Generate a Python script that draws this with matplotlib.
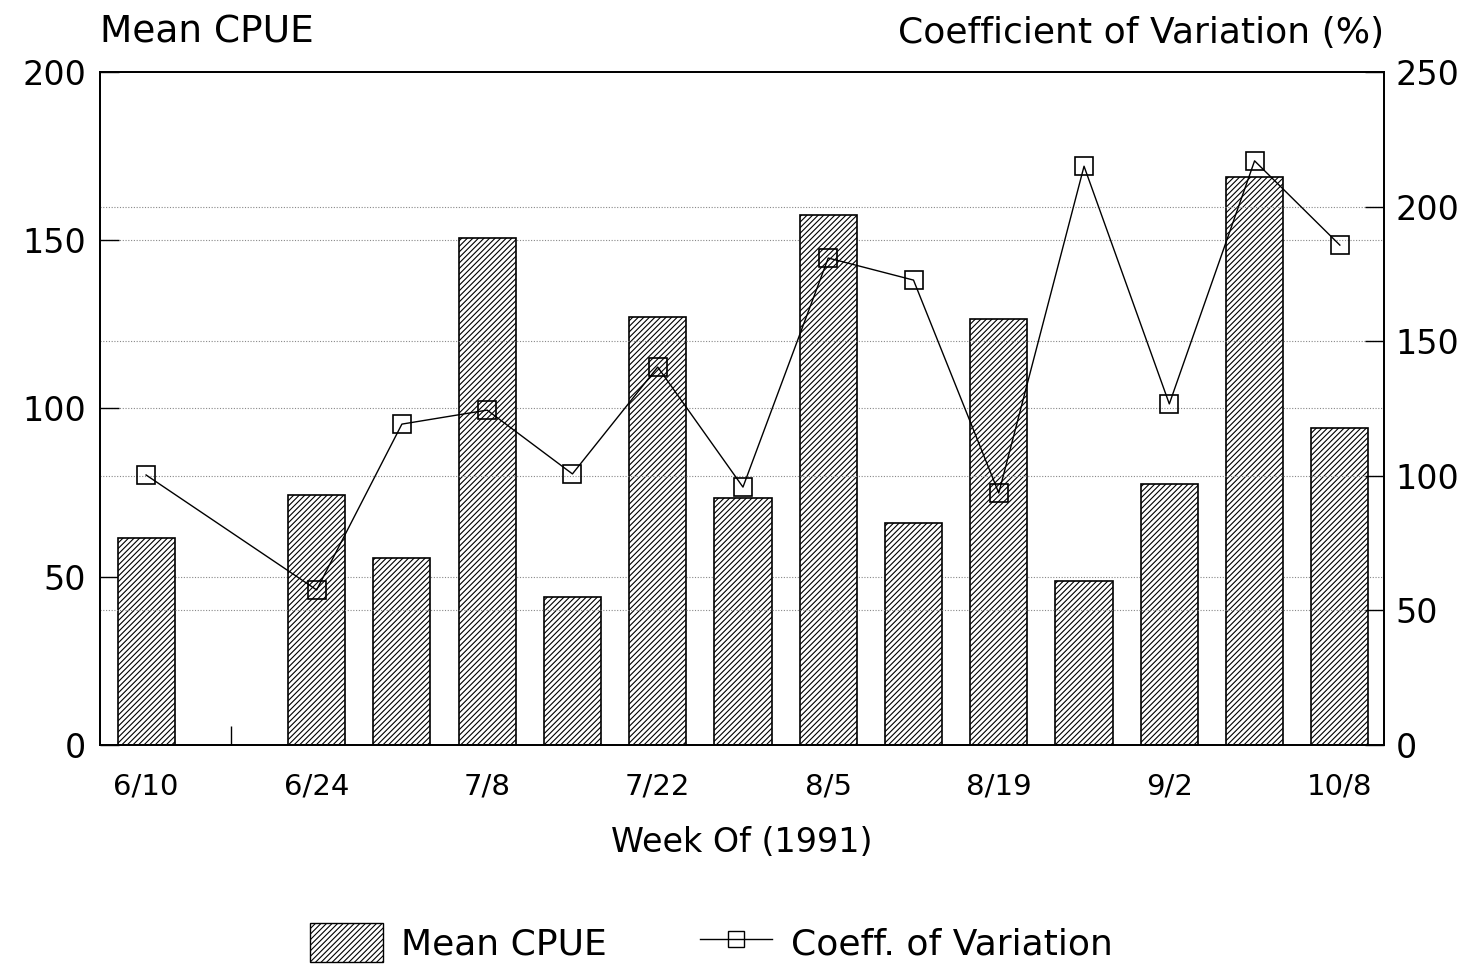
import matplotlib
matplotlib.use("Agg")
import matplotlib.pyplot as plt
from matplotlib.patches import Patch
from matplotlib.lines import Line2D
import numpy as np

plt.rcParams['font.family'] = ['DejaVu Sans']
plt.rcParams['hatch.linewidth'] = 0.8

weeks = ['6/10', '6/17', '6/24', '7/1', '7/8', '7/15', '7/22', '7/29',
         '8/5', '8/12', '8/19', '8/26', '9/2', '9/9', '10/8']
mean_cpue = [61.5, np.nan, 74.3, 55.6, 150.7, 44.0, 127.2, 73.4,
             157.5, 66.0, 126.6, 48.7, 77.6, 168.8, 94.2]
coeff_var = [100.3, np.nan, 57.6, 119.2, 124.4, 100.7, 140.4, 95.8,
             180.9, 172.7, 93.6, 215.0, 126.7, 217.0, 185.7]

x = np.arange(len(weeks))
cpue = np.array(mean_cpue)
cv = np.array(coeff_var)

fig = plt.figure(figsize=(14.82, 9.64), dpi=100)
ax = fig.add_axes([0.0675, 0.2272, 0.8665, 0.6981])
ax2 = ax.twinx()

# dotted grid for both scales
for v in [50, 100, 150]:
    ax.axhline(v, color='#888888', lw=0.8, ls=(0, (1, 1.5)), zorder=0)
for v in [50, 100, 150, 200]:
    ax2.axhline(v, color='#888888', lw=0.8, ls=(0, (1, 1.5)), zorder=0)

ok = ~np.isnan(cpue)
ax.bar(x[ok], cpue[ok], width=0.67, color='white', edgecolor='black',
       hatch='//////', linewidth=1.2, zorder=2)

ax.set_xlim(-0.54, 14.52)
ax.set_ylim(0, 200)
ax2.set_ylim(0, 250)

ax.set_zorder(ax2.get_zorder() - 1)
ax.patch.set_visible(False)

okc = ~np.isnan(cv)
ax2.plot(x[okc], cv[okc], color='black', lw=1.0, marker='s', markersize=12.5,
         markerfacecolor='none', markeredgecolor='black', markeredgewidth=1.2,
         zorder=3)

ax.set_xticks(x)
ax.set_xticklabels([w if i % 2 == 0 else '' for i, w in enumerate(weeks)],
                   fontsize=21)
ax.set_yticks([0, 50, 100, 150, 200])
ax2.set_yticks([0, 50, 100, 150, 200, 250])
ax.tick_params(axis='x', direction='in', length=14, width=1, pad=20)
ax.tick_params(axis='y', direction='in', length=14, width=1, labelsize=24, pad=10)
ax2.tick_params(axis='y', direction='in', length=14, width=1, labelsize=24, pad=8)

for a in (ax, ax2):
    for s in a.spines.values():
        s.set_linewidth(1.3)

ax.set_xlabel('Week Of (1991)', fontsize=24, labelpad=18)
ax.text(0.0, 1.032, 'Mean CPUE', transform=ax.transAxes, fontsize=27,
        ha='left', va='bottom')
ax.text(1.0, 1.032, 'Coefficient of Variation (%)', transform=ax.transAxes,
        fontsize=26, ha='right', va='bottom')

handles = [Patch(facecolor='white', edgecolor='black', hatch='//////'),
           Line2D([0], [0], color='black', lw=1.0, marker='s', markersize=11,
                  markerfacecolor='none', markeredgecolor='black')]
fig.legend(handles, ['Mean CPUE', 'Coeff. of Variation'], loc='center',
           bbox_to_anchor=(0.48, 0.022), ncol=2, frameon=False, fontsize=26,
           handlelength=2.0, handleheight=1.3, handletextpad=0.5,
           columnspacing=2.6)

fig.savefig('out.png', dpi=100)
